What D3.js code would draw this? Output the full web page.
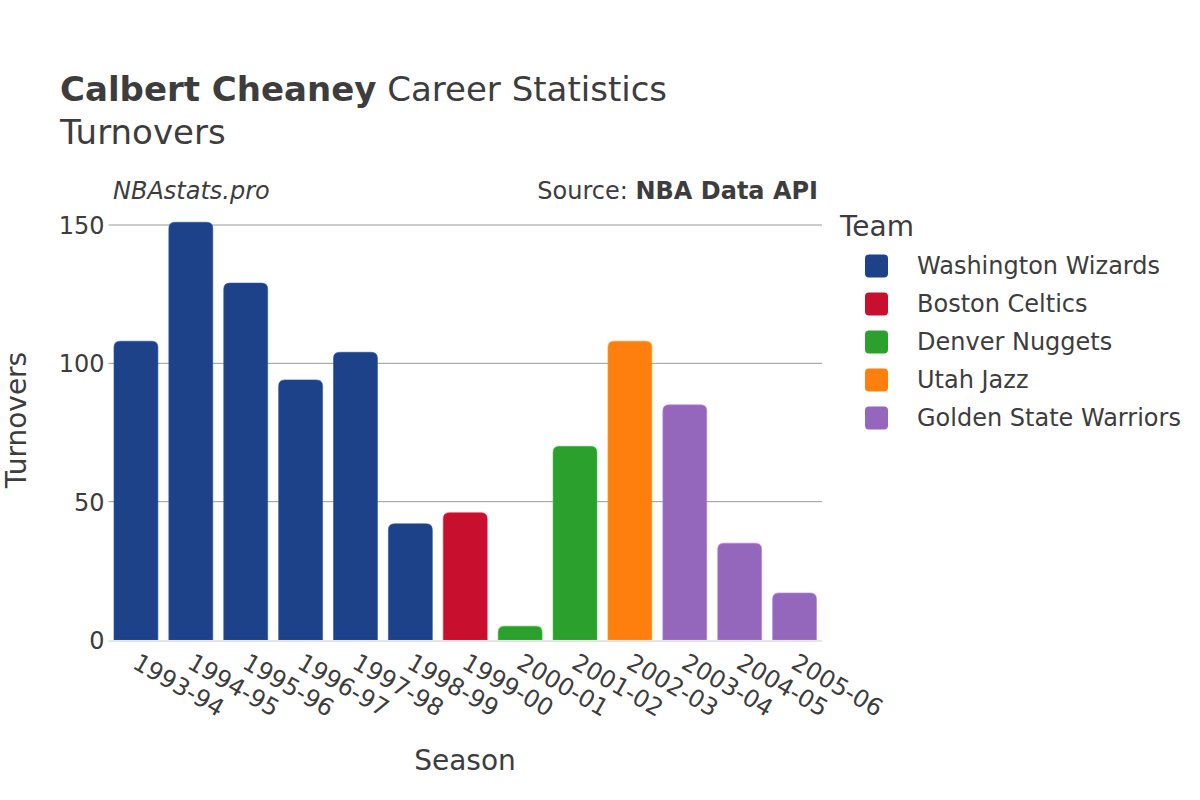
<!DOCTYPE html>
<html><head><meta charset="utf-8">
<script src="https://cdn.jsdelivr.net/npm/d3@7"></script>
<style>body{margin:0;background:#fff;} text{font-family:"DejaVu Sans",sans-serif;fill:#3d3d3d;}</style>
</head><body>
<svg id="c" width="1200" height="800"></svg>
<script>
const seasons = ["1993-94","1994-95","1995-96","1996-97","1997-98","1998-99","1999-00","2000-01","2001-02","2002-03","2003-04","2004-05","2005-06"];
const turnovers = [108,151,129,94,104,42,46,5,70,108,85,35,17];
const seasonTeams = ["Washington Wizards","Washington Wizards","Washington Wizards","Washington Wizards","Washington Wizards","Washington Wizards","Boston Celtics","Denver Nuggets","Denver Nuggets","Utah Jazz","Golden State Warriors","Golden State Warriors","Golden State Warriors"];
const teams = ["Washington Wizards","Boston Celtics","Denver Nuggets","Utah Jazz","Golden State Warriors"];
const teamColors = ["#1d428a","#c8102e","#2ca02c","#ff7f0e","#9467bd"];
const yTicks = [0,50,100,150];

(function(){
const svg = d3.select("#c");
const pLeft = 108.5, pRight = 822, pBottom = 640;
const x = d3.scaleBand().domain(seasons).range([pLeft, pRight]).paddingInner(0.2).paddingOuter(0.1);
const y = d3.scaleLinear().domain([0, 150]).range([pBottom, 225]);
const color = d3.scaleOrdinal().domain(teams).range(teamColors);

// grid
svg.append("g").selectAll("line").data(yTicks.filter(d=>d>0)).join("line")
  .attr("x1", pLeft).attr("x2", pRight).attr("y1", d=>y(d)).attr("y2", d=>y(d))
  .attr("stroke", "#999").attr("stroke-width", 1);

// bars
const data = seasons.map((s,i)=>({s, v: turnovers[i], t: seasonTeams[i]}));
function barPath(x0, y0, w, h, r) {
  r = Math.min(r, h, w/2);
  return `M${x0},${y0+h}V${y0+r}Q${x0},${y0} ${x0+r},${y0}H${x0+w-r}Q${x0+w},${y0} ${x0+w},${y0+r}V${y0+h}Z`;
}
svg.append("g").selectAll("path").data(data).join("path")
  .attr("d", d => barPath(x(d.s), y(d.v), x.bandwidth(), y(0)-y(d.v), 6))
  .attr("fill", d => color(d.t))
  .attr("stroke", d => d3.color(color(d.t)).brighter(0.6)).attr("stroke-width", 0.6);

// baseline
svg.append("line").attr("x1", pLeft).attr("x2", pRight).attr("y1", y(0)+1).attr("y2", y(0)+1)
  .attr("stroke", "#e6e6e6").attr("stroke-width", 2);

// y axis
const yAxis = d3.axisLeft(y).tickValues(yTicks).tickSize(0).tickPadding(4);
const gy = svg.append("g").attr("transform", `translate(${pLeft},0)`).call(yAxis);
gy.select(".domain").remove();
gy.selectAll("text").style("font-size", "24px").style("font-family", "DejaVu Sans").attr("fill", "#3d3d3d").attr("dy", "0.35em");

// x axis
const xAxis = d3.axisBottom(x).tickSize(0).tickPadding(0);
const gx = svg.append("g").attr("transform", `translate(0,${pBottom})`).call(xAxis);
gx.select(".domain").remove();
gx.selectAll("text").style("font-size", "24px").style("font-family", "DejaVu Sans").attr("fill", "#3d3d3d")
  .attr("text-anchor", "start").attr("dy", null).attr("y", 0)
  .attr("transform", "translate(4,12) rotate(30)").attr("dominant-baseline", "hanging");

// titles
const t = svg.append("text").attr("x", 60).attr("y", 101).style("font-size", "34px");
t.append("tspan").text("Calbert Cheaney").style("font-weight", "bold");
t.append("tspan").text(" Career Statistics");
svg.append("text").attr("x", 60).attr("y", 144).style("font-size", "34px").text("Turnovers");

svg.append("text").attr("x", 113).attr("y", 199).style("font-size", "24px").style("font-style", "italic").text("NBAstats.pro");
const src = svg.append("text").attr("x", 818).attr("y", 199).attr("text-anchor", "end").style("font-size", "24px");
src.append("tspan").text("Source: ");
src.append("tspan").text("NBA Data API").style("font-weight", "bold");

svg.append("text").attr("x", 465).attr("y", 770).attr("text-anchor", "middle").style("font-size", "28px").text("Season");
svg.append("text").attr("transform", "translate(26,420) rotate(-90)").attr("text-anchor", "middle").style("font-size", "28px").text("Turnovers");

// legend
svg.append("text").attr("x", 840).attr("y", 236).style("font-size", "28px").text("Team");
const lg = svg.append("g").selectAll("g").data(teams).join("g")
  .attr("transform", (d,i)=>`translate(0,${266 + i*38})`);
lg.append("rect").attr("x", 865).attr("y", -11.5).attr("width", 23).attr("height", 23).attr("rx", 4)
  .attr("fill", d=>color(d));
lg.append("text").attr("x", 917).attr("y", 0).attr("dy", "0.35em").style("font-size", "24px").text(d=>d);
})();
</script>
</body></html>
